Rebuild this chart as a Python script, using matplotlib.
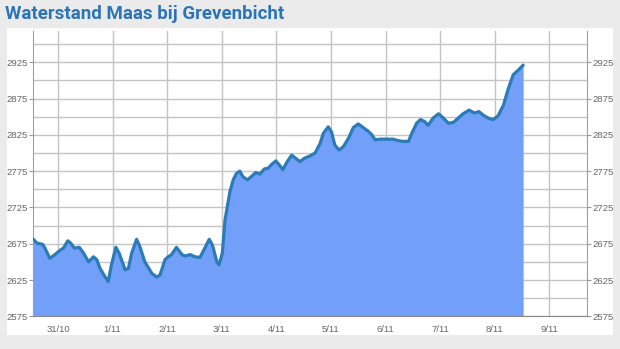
import matplotlib.pyplot as plt
from matplotlib.patches import Rectangle

# dagen na 31/10 00:00, waterstand in cm
dag = [-0.45, -0.39, -0.28, -0.24, -0.15, -0.09, 0.04, 0.10, 0.18, 0.23,
       0.30, 0.39, 0.46, 0.56, 0.65, 0.71, 0.77, 0.84, 0.92, 0.98,
       1.06, 1.12, 1.23, 1.29, 1.35, 1.44, 1.50, 1.59, 1.72, 1.81,
       1.87, 1.96, 2.02, 2.08, 2.17, 2.27, 2.33, 2.42, 2.51, 2.60,
       2.69, 2.77, 2.83, 2.91, 2.95, 3.01, 3.06, 3.15, 3.21, 3.27,
       3.33, 3.39, 3.47, 3.55, 3.62, 3.70, 3.78, 3.85, 3.91, 3.99,
       4.07, 4.12, 4.19, 4.28, 4.35, 4.43, 4.52, 4.62, 4.71, 4.80,
       4.86, 4.95, 5.01, 5.07, 5.15, 5.23, 5.32, 5.41, 5.50, 5.59,
       5.68, 5.75, 5.81, 5.90, 6.02, 6.14, 6.23, 6.31, 6.42, 6.48,
       6.57, 6.64, 6.72, 6.78, 6.87, 6.97, 7.06, 7.15, 7.24, 7.33,
       7.42, 7.53, 7.63, 7.71, 7.79, 7.88, 7.97, 8.06, 8.16, 8.25,
       8.34, 8.43, 8.52]
stand = [2681, 2676, 2674, 2669, 2655, 2658, 2666, 2669, 2679, 2676,
         2669, 2670, 2663, 2650, 2657, 2653, 2641, 2632, 2623, 2646,
         2670, 2662, 2639, 2641, 2662, 2681, 2671, 2650, 2634, 2629,
         2632, 2653, 2657, 2660, 2670, 2660, 2658, 2660, 2657, 2656,
         2669, 2681, 2673, 2650, 2646, 2662, 2708, 2747, 2763, 2772,
         2775, 2767, 2763, 2768, 2773, 2771, 2778, 2779, 2784, 2789,
         2782, 2777, 2787, 2797, 2793, 2788, 2793, 2796, 2800, 2813,
         2827, 2836, 2829, 2811, 2804, 2809, 2820, 2835, 2840, 2835,
         2830, 2825, 2818, 2819, 2819, 2819, 2817, 2816, 2816, 2827,
         2841, 2846, 2843, 2838, 2848, 2854, 2848, 2841, 2842, 2848,
         2854, 2859, 2855, 2857, 2852, 2848, 2846, 2851, 2866, 2889,
         2908, 2914, 2921]

dag_labels = ['31/10', '1/11', '2/11', '3/11', '4/11', '5/11',
              '6/11', '7/11', '8/11', '9/11']
y_labels = [2575, 2625, 2675, 2725, 2775, 2825, 2875, 2925]

fig = plt.figure(figsize=(6.2, 3.49), dpi=100, facecolor='#ebebeb')
fig.patches.append(Rectangle((0.0113, 0.040), 0.977, 0.88, transform=fig.transFigure,
                             facecolor='white', edgecolor='none', zorder=-10))

ax = fig.add_axes([0.0532, 0.0937, 0.8935, 0.8175], zorder=1)
ax.set_facecolor('white')
ax.set_axisbelow(True)

ax.fill_between(dag, stand, 2575, color='#72a0f8', lw=0, zorder=2)
ax.plot(dag, stand, color='#2b7bb9', lw=2.3, zorder=3, solid_capstyle='round')

ax.set_xlim(-0.458, 9.689)
ax.set_ylim(2575, 2968)

ax.set_xticks(range(len(dag_labels)))
ax.set_xticklabels(dag_labels)
ax.set_yticks(y_labels)
ax.set_yticks(range(2600, 2960, 50), minor=True)

ax.grid(True, which='both', color='#c4c4c4', lw=1)
ax.tick_params(axis='x', length=0, pad=6, labelsize=6.8, labelcolor='#666666')
ax.tick_params(axis='y', which='major', length=3, color='#999999', pad=1,
               labelsize=6.8, labelcolor='#666666', right=True, labelright=True)
ax.tick_params(axis='y', which='minor', length=0)
for lab in ax.get_xticklabels() + ax.get_yticklabels():
    lab.set_fontfamily('Liberation Sans')

ax.spines['top'].set_visible(False)
ax.spines['left'].set_color('#a0a0a0')
ax.spines['right'].set_color('#a0a0a0')
ax.spines['bottom'].set_color('#888888')

fig.text(0.008, 0.945, 'Waterstand Maas bij Grevenbicht', fontsize=13.5,
         fontweight='bold', family='Roboto',
         color='#2c74b8', va='baseline')

fig.savefig('out.png', dpi=100, facecolor=fig.get_facecolor())
